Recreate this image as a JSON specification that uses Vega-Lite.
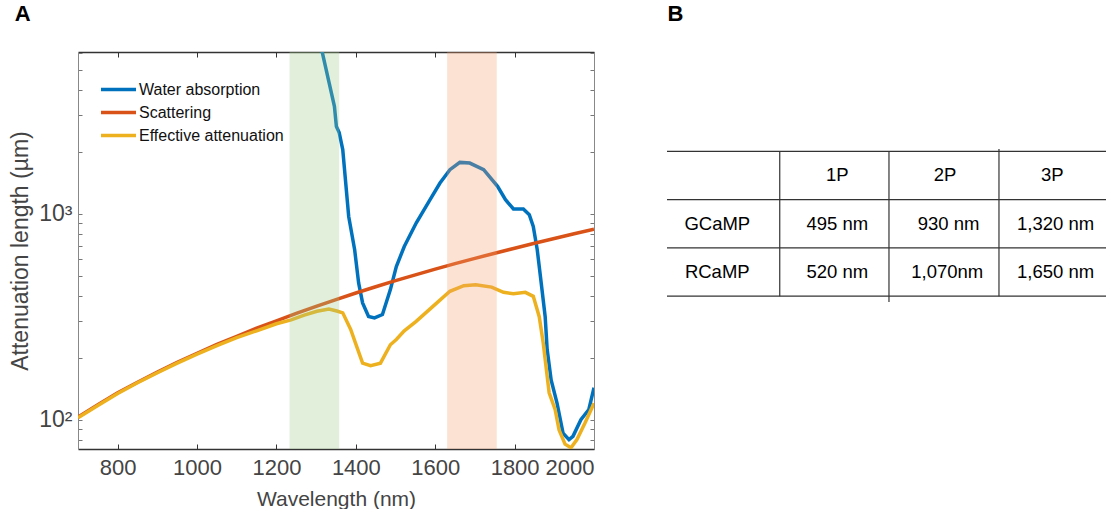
{
  "$schema": "https://vega.github.io/schema/vega-lite/v6.json",
  "background": "white",
  "padding": {"left": 9, "top": 2, "right": 0, "bottom": 0},
  "bounds": "flush",
  "spacing": 73,
  "config": {
    "font": "Liberation Sans",
    "view": {"stroke": null},
    "axis": {"labelFont": "Liberation Sans", "titleFont": "Liberation Sans", "labelColor": "#444444", "titleColor": "#444444", "titleFontWeight": "normal", "grid": false},
    "title": {"fontSize": 22, "fontWeight": "bold", "anchor": "start", "frame": "bounds", "color": "#000000", "offset": 26, "font": "Liberation Sans"}
  },
  "datasets": {
    "curves": [
      {"s": "Water absorption", "wl": 1300, "v": 8200},
      {"s": "Water absorption", "wl": 1316, "v": 6000},
      {"s": "Water absorption", "wl": 1333, "v": 4300},
      {"s": "Water absorption", "wl": 1346, "v": 3320},
      {"s": "Water absorption", "wl": 1351, "v": 2650},
      {"s": "Water absorption", "wl": 1358, "v": 2480},
      {"s": "Water absorption", "wl": 1367, "v": 2050},
      {"s": "Water absorption", "wl": 1382, "v": 970},
      {"s": "Water absorption", "wl": 1397, "v": 668},
      {"s": "Water absorption", "wl": 1407, "v": 461},
      {"s": "Water absorption", "wl": 1417, "v": 369},
      {"s": "Water absorption", "wl": 1432, "v": 317},
      {"s": "Water absorption", "wl": 1447, "v": 312},
      {"s": "Water absorption", "wl": 1467, "v": 324},
      {"s": "Water absorption", "wl": 1487, "v": 428},
      {"s": "Water absorption", "wl": 1502, "v": 554},
      {"s": "Water absorption", "wl": 1522, "v": 693},
      {"s": "Water absorption", "wl": 1552, "v": 901},
      {"s": "Water absorption", "wl": 1587, "v": 1170},
      {"s": "Water absorption", "wl": 1612, "v": 1409},
      {"s": "Water absorption", "wl": 1637, "v": 1636},
      {"s": "Water absorption", "wl": 1662, "v": 1775},
      {"s": "Water absorption", "wl": 1687, "v": 1762},
      {"s": "Water absorption", "wl": 1722, "v": 1636},
      {"s": "Water absorption", "wl": 1757, "v": 1358},
      {"s": "Water absorption", "wl": 1777, "v": 1170},
      {"s": "Water absorption", "wl": 1797, "v": 1054},
      {"s": "Water absorption", "wl": 1822, "v": 1054},
      {"s": "Water absorption", "wl": 1837, "v": 989},
      {"s": "Water absorption", "wl": 1847, "v": 867},
      {"s": "Water absorption", "wl": 1857, "v": 668},
      {"s": "Water absorption", "wl": 1867, "v": 461},
      {"s": "Water absorption", "wl": 1877, "v": 316},
      {"s": "Water absorption", "wl": 1882, "v": 219},
      {"s": "Water absorption", "wl": 1892, "v": 156},
      {"s": "Water absorption", "wl": 1907, "v": 120},
      {"s": "Water absorption", "wl": 1922, "v": 86},
      {"s": "Water absorption", "wl": 1937, "v": 80},
      {"s": "Water absorption", "wl": 1947, "v": 83},
      {"s": "Water absorption", "wl": 1967, "v": 100},
      {"s": "Water absorption", "wl": 1987, "v": 112},
      {"s": "Water absorption", "wl": 2000, "v": 143},
      {"s": "Scattering", "wl": 700, "v": 103},
      {"s": "Scattering", "wl": 750, "v": 118},
      {"s": "Scattering", "wl": 800, "v": 135},
      {"s": "Scattering", "wl": 850, "v": 152},
      {"s": "Scattering", "wl": 900, "v": 170},
      {"s": "Scattering", "wl": 950, "v": 190},
      {"s": "Scattering", "wl": 1000, "v": 210},
      {"s": "Scattering", "wl": 1050, "v": 232},
      {"s": "Scattering", "wl": 1100, "v": 254},
      {"s": "Scattering", "wl": 1150, "v": 278},
      {"s": "Scattering", "wl": 1200, "v": 302},
      {"s": "Scattering", "wl": 1250, "v": 328},
      {"s": "Scattering", "wl": 1300, "v": 355},
      {"s": "Scattering", "wl": 1350, "v": 383},
      {"s": "Scattering", "wl": 1400, "v": 412},
      {"s": "Scattering", "wl": 1450, "v": 442},
      {"s": "Scattering", "wl": 1500, "v": 473},
      {"s": "Scattering", "wl": 1550, "v": 505},
      {"s": "Scattering", "wl": 1600, "v": 538},
      {"s": "Scattering", "wl": 1650, "v": 572},
      {"s": "Scattering", "wl": 1700, "v": 607},
      {"s": "Scattering", "wl": 1750, "v": 643},
      {"s": "Scattering", "wl": 1800, "v": 680},
      {"s": "Scattering", "wl": 1850, "v": 719},
      {"s": "Scattering", "wl": 1900, "v": 758},
      {"s": "Scattering", "wl": 1950, "v": 799},
      {"s": "Scattering", "wl": 2000, "v": 840},
      {"s": "Effective attenuation", "wl": 700, "v": 102},
      {"s": "Effective attenuation", "wl": 750, "v": 117},
      {"s": "Effective attenuation", "wl": 800, "v": 134},
      {"s": "Effective attenuation", "wl": 850, "v": 151},
      {"s": "Effective attenuation", "wl": 900, "v": 169},
      {"s": "Effective attenuation", "wl": 950, "v": 188},
      {"s": "Effective attenuation", "wl": 1000, "v": 208},
      {"s": "Effective attenuation", "wl": 1050, "v": 229},
      {"s": "Effective attenuation", "wl": 1100, "v": 250},
      {"s": "Effective attenuation", "wl": 1150, "v": 270},
      {"s": "Effective attenuation", "wl": 1200, "v": 292},
      {"s": "Effective attenuation", "wl": 1237, "v": 305},
      {"s": "Effective attenuation", "wl": 1270, "v": 322},
      {"s": "Effective attenuation", "wl": 1302, "v": 336},
      {"s": "Effective attenuation", "wl": 1332, "v": 344},
      {"s": "Effective attenuation", "wl": 1352, "v": 337},
      {"s": "Effective attenuation", "wl": 1367, "v": 330},
      {"s": "Effective attenuation", "wl": 1387, "v": 274},
      {"s": "Effective attenuation", "wl": 1402, "v": 227},
      {"s": "Effective attenuation", "wl": 1417, "v": 188},
      {"s": "Effective attenuation", "wl": 1437, "v": 183},
      {"s": "Effective attenuation", "wl": 1462, "v": 188},
      {"s": "Effective attenuation", "wl": 1487, "v": 231},
      {"s": "Effective attenuation", "wl": 1502, "v": 245},
      {"s": "Effective attenuation", "wl": 1522, "v": 270},
      {"s": "Effective attenuation", "wl": 1552, "v": 300},
      {"s": "Effective attenuation", "wl": 1602, "v": 366},
      {"s": "Effective attenuation", "wl": 1637, "v": 420},
      {"s": "Effective attenuation", "wl": 1672, "v": 447},
      {"s": "Effective attenuation", "wl": 1702, "v": 452},
      {"s": "Effective attenuation", "wl": 1742, "v": 440},
      {"s": "Effective attenuation", "wl": 1772, "v": 415},
      {"s": "Effective attenuation", "wl": 1797, "v": 409},
      {"s": "Effective attenuation", "wl": 1827, "v": 415},
      {"s": "Effective attenuation", "wl": 1847, "v": 397},
      {"s": "Effective attenuation", "wl": 1862, "v": 316},
      {"s": "Effective attenuation", "wl": 1872, "v": 236},
      {"s": "Effective attenuation", "wl": 1887, "v": 135},
      {"s": "Effective attenuation", "wl": 1902, "v": 112},
      {"s": "Effective attenuation", "wl": 1912, "v": 89},
      {"s": "Effective attenuation", "wl": 1927, "v": 76},
      {"s": "Effective attenuation", "wl": 1942, "v": 73},
      {"s": "Effective attenuation", "wl": 1957, "v": 80},
      {"s": "Effective attenuation", "wl": 1977, "v": 96},
      {"s": "Effective attenuation", "wl": 2000, "v": 120}
    ],
    "bands": [
      {"band": "green window", "start": 1233, "end": 1358},
      {"band": "orange window", "start": 1630, "end": 1755}
    ],
    "grid": [
      {"x": 0, "x2": 3.991, "y": 0, "y2": 0},
      {"x": 0, "x2": 3.991, "y": 1, "y2": 1},
      {"x": 0, "x2": 3.991, "y": 2, "y2": 2},
      {"x": 0, "x2": 3.991, "y": 3, "y2": 3},
      {"x": 1.025, "x2": 1.025, "y": 0, "y2": 3},
      {"x": 2.018, "x2": 2.018, "y": 0, "y2": 3.12},
      {"x": 3.018, "x2": 3.018, "y": -0.05, "y2": 3}
    ],
    "cells": [
      {"x": 1.548, "y": 0.5, "text": "1P"},
      {"x": 2.527, "y": 0.5, "text": "2P"},
      {"x": 3.503, "y": 0.5, "text": "3P"},
      {"x": 0.457, "y": 1.5, "text": "GCaMP"},
      {"x": 1.548, "y": 1.5, "text": "495 nm"},
      {"x": 2.56, "y": 1.5, "text": "930 nm"},
      {"x": 3.533, "y": 1.5, "text": "1,320 nm"},
      {"x": 0.457, "y": 2.5, "text": "RCaMP"},
      {"x": 1.548, "y": 2.5, "text": "520 nm"},
      {"x": 2.548, "y": 2.5, "text": "1,070nm"},
      {"x": 3.533, "y": 2.5, "text": "1,650 nm"}
    ]
  },
  "hconcat": [
    {
      "title": {"text": "A", "dx": 5},
      "width": 516,
      "height": 397,
      "layer": [
        {
          "data": {"name": "curves"},
          "mark": {"type": "line", "clip": true, "strokeWidth": 3.5},
          "encoding": {
            "x": {
              "field": "wl", "type": "quantitative",
              "scale": {"domain": [700, 2000], "nice": false, "zero": false},
              "axis": {"orient": "bottom", "values": [800, 1000, 1200, 1400, 1600, 1800, 2000], "format": "d", "tickSize": -5, "tickColor": "#333333", "domainColor": "#333333", "domainWidth": 1.5, "labelFontSize": 22, "labelPadding": 13, "title": "Wavelength (nm)", "titleFontSize": 21, "titlePadding": 10}
            },
            "y": {
              "field": "v", "type": "quantitative",
              "scale": {"type": "log", "domain": [72, 6100], "nice": false},
              "axis": {"orient": "left", "values": [80, 90, 100, 200, 300, 400, 500, 600, 700, 800, 900, 1000, 2000, 3000, 4000, 5000, 6000], "labelExpr": "datum.value == 100 ? '10²' : (datum.value == 1000 ? '10³' : '')", "tickSize": -4, "tickColor": "#777777", "domainColor": "#888888", "labelFontSize": 23, "labelPadding": 10, "title": "Attenuation length (µm)", "titleFontSize": 23, "titlePadding": 6}
            },
            "color": {
              "field": "s", "type": "nominal",
              "scale": {"domain": ["Water absorption", "Scattering", "Effective attenuation"], "range": ["#0072BD", "#D95319", "#EDB120"]},
              "legend": {"orient": "none", "legendX": 21, "legendY": 26, "title": null, "symbolType": "stroke", "symbolStrokeWidth": 3.5, "symbolSize": 1225, "clipHeight": 23, "labelFontSize": 16, "labelColor": "#111111", "labelFont": "Liberation Sans", "rowPadding": 0, "labelOffset": 1, "padding": 0, "labelLimit": 400}
            }
          }
        },
        {
          "data": {"name": "bands"},
          "mark": {"type": "rect", "opacity": 0.3},
          "encoding": {
            "x": {"field": "start", "type": "quantitative", "axis": {"orient": "top", "labels": false, "title": null, "values": [800, 1000, 1200, 1400, 1600, 1800, 2000], "tickSize": -5, "tickColor": "#333333", "domainColor": "#333333", "domainWidth": 1.3}},
            "x2": {"field": "end"},
            "y": {"datum": 72, "type": "quantitative", "axis": {"orient": "right", "labels": false, "title": null, "values": [80, 90, 100, 200, 300, 400, 500, 600, 700, 800, 900, 1000, 2000, 3000, 4000, 5000, 6000], "tickSize": -4, "tickColor": "#777777", "domainColor": "#888888"}},
            "y2": {"datum": 6100},
            "fill": {"field": "band", "type": "nominal", "scale": {"domain": ["green window", "orange window"], "range": ["#9eca84", "#f29e69"]}, "legend": null}
          }
        }
      ],
      "resolve": {"axis": {"x": "independent", "y": "independent"}}
    },
    {
      "title": {"text": "B", "dx": 1},
      "width": 439,
      "height": 397,
      "layer": [
        {
          "data": {"name": "grid"},
          "mark": {"type": "rule", "color": "#333333", "strokeWidth": 1.2},
          "encoding": {
            "x": {"field": "x", "type": "quantitative", "scale": {"domain": [0, 3.991], "nice": false, "zero": false}, "axis": null},
            "x2": {"field": "x2"},
            "y": {"field": "y", "type": "quantitative", "scale": {"domain": [-2.056, 6.164], "nice": false, "zero": false, "reverse": true}, "axis": null},
            "y2": {"field": "y2"}
          }
        },
        {
          "data": {"name": "cells"},
          "mark": {"type": "text", "fontSize": 18.5, "font": "Liberation Sans", "color": "#000000", "align": "center", "baseline": "middle"},
          "encoding": {
            "x": {"field": "x", "type": "quantitative"},
            "y": {"field": "y", "type": "quantitative"},
            "text": {"field": "text"}
          }
        }
      ]
    }
  ]
}
